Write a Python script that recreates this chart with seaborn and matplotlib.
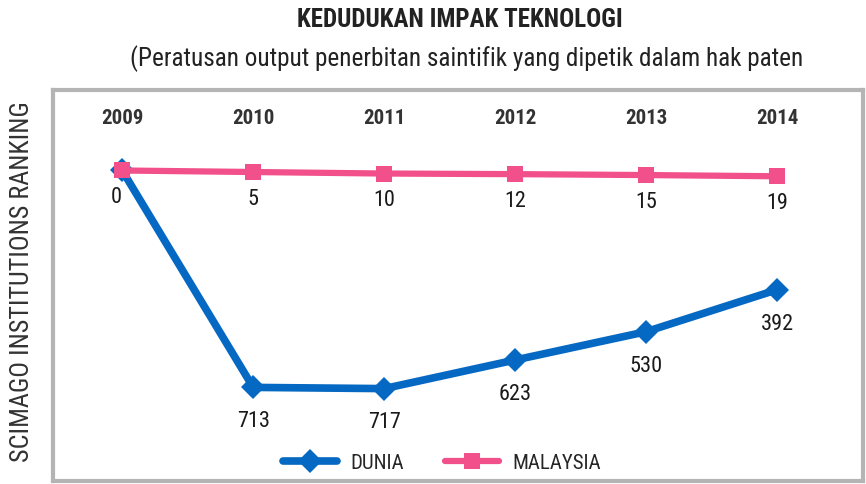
import pandas as pd
import matplotlib.pyplot as plt
import seaborn as sns

# Data
years = [2009, 2010, 2011, 2012, 2013, 2014]
dunia = [0, 713, 717, 623, 530, 392]
malaysia = [0, 5, 10, 12, 15, 19]
dunia_labels = ['', '713', '717', '623', '530', '392']
malaysia_labels = ['0', '5', '10', '12', '15', '19']

df = pd.DataFrame({'Tahun': years, 'DUNIA': dunia, 'MALAYSIA': malaysia})

sns.set_style("white")
plt.rcParams['font.family'] = ['Roboto Condensed', 'Liberation Sans Narrow', 'Arial Narrow',
                               'DejaVu Sans Condensed', 'Roboto', 'DejaVu Sans']

blue = '#0568c2'
pink = '#f2508a'

fig = plt.figure(figsize=(8.66, 4.85), dpi=100)
ax = fig.add_axes([0.061, 0.006, 0.936, 0.806])

sns.lineplot(data=df, x='Tahun', y='DUNIA', ax=ax, color=blue, linewidth=5.5,
             marker='D', markersize=12, markeredgewidth=0, label='DUNIA')
sns.lineplot(data=df, x='Tahun', y='MALAYSIA', ax=ax, color=pink, linewidth=4.5,
             marker='s', markersize=12, markeredgewidth=0, label='MALAYSIA')

ax.set_xlim(2008.47, 2014.66)
ax.set_ylim(1021, -264)
ax.set_xticks([])
ax.set_yticks([])
ax.set_xlabel('')
ax.set_ylabel('')

for s in ax.spines.values():
    s.set_color('#b4b4b4')
    s.set_linewidth(3)

# Year labels along the top
for yr in years:
    ax.text(yr, 0.931, str(yr), transform=ax.get_xaxis_transform(),
            ha='center', va='center', fontsize=15, fontweight='bold', color='#333333')

# Value labels
for yr, v, lab in zip(years, malaysia, malaysia_labels):
    ax.annotate(lab, (yr, v), xytext=(-4 if yr == 2009 else 0, -19), textcoords='offset points',
                ha='center', va='center', fontsize=16, color='#1a1a1a')
for yr, v, lab in zip(years, dunia, dunia_labels):
    ax.annotate(lab, (yr, v), xytext=(0, -24), textcoords='offset points',
                ha='center', va='center', fontsize=16, color='#1a1a1a')

ax.legend(loc='lower center', bbox_to_anchor=(0.48, -0.025), ncol=2, frameon=False,
          fontsize=15, handlelength=2.6, columnspacing=2.0, handletextpad=0.6)

fig.text(0.531, 0.958, 'KEDUDUKAN IMPAK TEKNOLOGI', ha='center', va='center',
         fontsize=18, fontweight='bold', color='#222222')
fig.text(0.539, 0.88, '(Peratusan output penerbitan saintifik yang dipetik dalam hak paten',
         ha='center', va='center', fontsize=18.2, color='#222222')
fig.text(0.025, 0.419, 'SCIMAGO INSTITUTIONS RANKING', rotation=90, ha='center', va='center',
         fontsize=18.8, color='#333333')

plt.savefig('out.png', dpi=100)
